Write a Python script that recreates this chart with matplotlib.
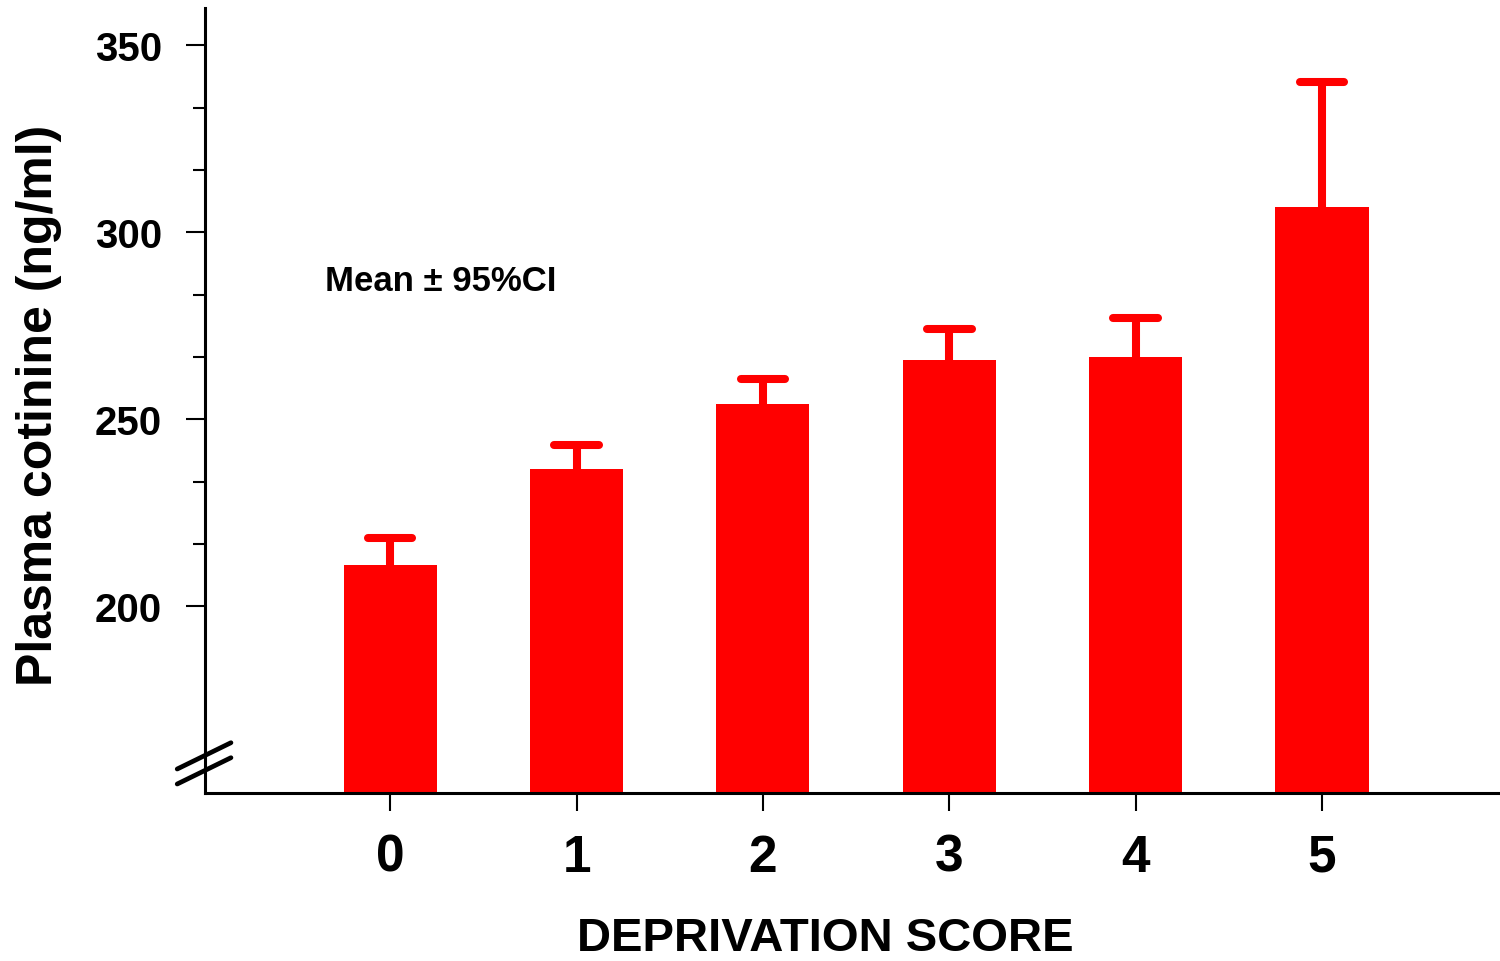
import matplotlib
matplotlib.use("Agg")
import matplotlib.pyplot as plt
import numpy as np

# Plasma cotinine by deprivation score (mean with upper 95% CI)
scores = ["0", "1", "2", "3", "4", "5"]
means = [210.9, 236.8, 254.0, 265.8, 266.6, 306.7]
upper_ci = [218.3, 243.0, 260.7, 274.1, 277.0, 340.2]

y_major = [200, 250, 300, 350]
y_minor = [200 + 50 / 3 * k for k in range(10)]

RED = "#ff0000"
plt.rcParams["font.family"] = ["Liberation Sans", "DejaVu Sans"]
plt.rcParams["font.weight"] = "bold"

fig = plt.figure(figsize=(15, 9.62), dpi=100)
ax = fig.add_axes([0.1367, 0.1746, 0.8633, 0.8160])

x = np.arange(len(scores))
ax.bar(x, means, width=0.5, color=RED, zorder=2)

# upper confidence whiskers with rounded caps
ax.vlines(x, means, upper_ci, color=RED, lw=5.8, zorder=1)
ax.hlines(upper_ci, x - 0.12, x + 0.12, color=RED, lw=5.8, zorder=1,
          capstyle="round")

ax.set_xlim(-0.993, 5.955)
ax.set_ylim(150, 360)

ax.spines["top"].set_visible(False)
ax.spines["right"].set_visible(False)
for s in ("left", "bottom"):
    ax.spines[s].set_linewidth(2.2)
    ax.spines[s].set_zorder(3)

ax.set_xticks(x)
ax.set_xticklabels(scores, fontsize=37, fontweight="bold")
ax.set_yticks(y_major)
ax.set_yticklabels([str(v) for v in y_major], fontsize=29, fontweight="bold")
ax.set_yticks([v for v in y_minor if v not in y_major], minor=True)
ax.tick_params(axis="y", which="major", length=14, width=1.5, pad=17)
ax.tick_params(axis="y", which="minor", length=9, width=1.5)
ax.tick_params(axis="x", which="major", length=13, width=1.5, pad=15.5)

ax.set_ylabel("Plasma cotinine (ng/ml)", fontsize=36, fontweight="bold",
              va="baseline")
ax.yaxis.set_label_coords(-0.1181, 0.4955)
ax.set_xlabel("DEPRIVATION SCORE", fontsize=34, fontweight="bold",
              va="baseline")
ax.xaxis.set_label_coords(0.479, -0.1995)

ax.text(-0.35, 287, "Mean \u00b1 95%CI", fontsize=25, fontweight="bold",
        ha="left", va="center")

# axis break marks on the y axis
for y0 in (0.0115, 0.0306):
    ax.plot([-0.0215, 0.020], [y0, y0 + 0.0335], transform=ax.transAxes,
            color="black", lw=3.4, clip_on=False, solid_capstyle="round",
            zorder=4)

fig.savefig("out.png", dpi=100)
